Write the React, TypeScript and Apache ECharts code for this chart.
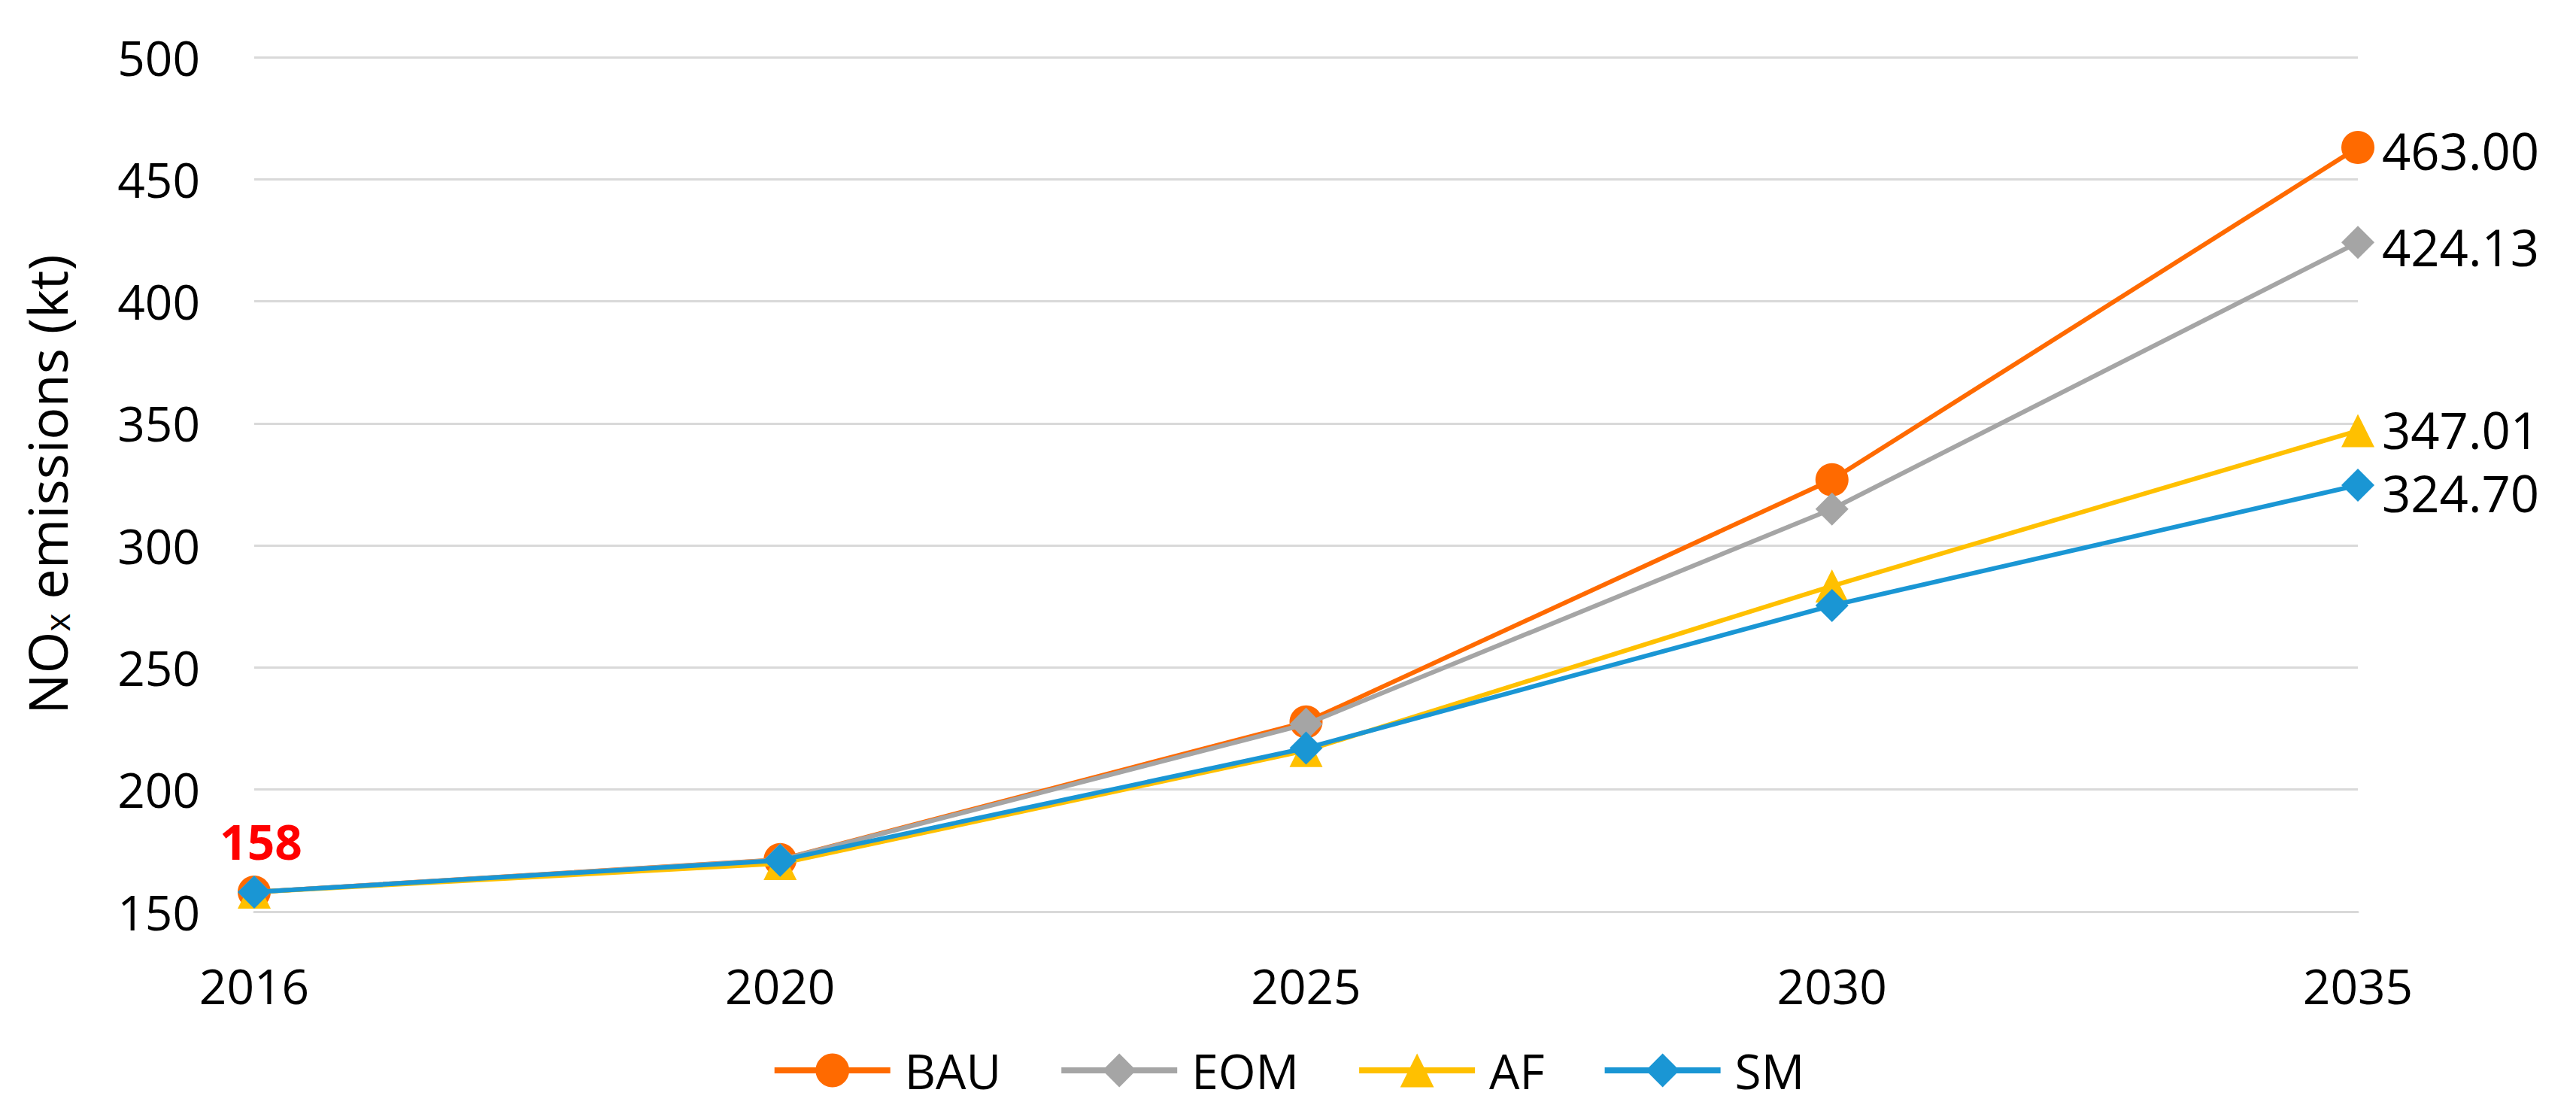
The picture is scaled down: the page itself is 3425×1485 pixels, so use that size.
import React, { useEffect, useRef } from "react";
import * as echarts from "echarts";

const years = ["2016", "2020", "2025", "2030", "2035"];
const seriesNames = ["BAU", "EOM", "AF", "SM"];
const bauValues = [158, 171.3, 227.7, 326.9, 463.0];
const eomValues = [158, 171.2, 226.8, 314.9, 424.13];
const afValues = [158, 169.7, 216, 283.4, 347.01];
const smValues = [158, 171, 217, 275.4, 324.7];
const yTicks = { min: 150, max: 500, interval: 50 };
const firstLabel = "158";

const colors = ["#FF6A00", "#A5A5A5", "#FFC000", "#1A96D4"];
const symbols = ["circle", "diamond", "triangle", "diamond"];
const endLabelOffsets = [[0, 4], [0, 6], [0, -2], [0, 10]];
const FONT = "Open Sans";

export default function App() {
  const ref = useRef<HTMLDivElement>(null);
  useEffect(() => {
    if (!ref.current) return;
    const chart = echarts.init(ref.current, undefined, { renderer: "svg" });
    const all = [bauValues, eomValues, afValues, smValues];
    const series = all.map((vals, i) => ({
      name: seriesNames[i],
      type: "line",
      data: vals.map((v, j) => {
        const item: any = { value: v };
        if (j === vals.length - 1) {
          item.label = {
            show: true,
            position: "right",
            distance: 10,
            offset: endLabelOffsets[i],
            formatter: (p: any) => Number(p.value).toFixed(2),
            color: "#000",
            fontSize: 67,
            lineHeight: 66,
            fontFamily: FONT,
          };
        }
        if (j === 0 && i === 0) {
          item.label = {
            show: true,
            position: "top",
            distance: 14,
            offset: [9, 0],
            formatter: firstLabel,
            color: "#FF0000",
            fontWeight: "bold",
            fontSize: 64,
            fontFamily: FONT,
          };
        }
        return item;
      }),
      symbol: symbols[i],
      symbolSize: 44,
      showAllSymbol: true,
      lineStyle: { color: colors[i], width: 6 },
      itemStyle: { color: colors[i] },
      z: 2 + i,
      label: { show: false },
    }));

    chart.setOption({
      animation: false,
      backgroundColor: "#fff",
      grid: { left: 338, right: 290, top: 76, bottom: 273, containLabel: false },
      xAxis: {
        type: "category",
        data: years,
        boundaryGap: false,
        axisLine: { show: true, lineStyle: { color: "#D9D9D9", width: 3 } },
        axisTick: { show: false },
        axisLabel: { color: "#000", fontSize: 64, fontFamily: FONT, margin: 66 },
        splitLine: { show: false },
      },
      yAxis: {
        type: "value",
        min: yTicks.min,
        max: yTicks.max,
        interval: yTicks.interval,
        axisLine: { show: false },
        axisTick: { show: false },
        axisLabel: { color: "#000", fontSize: 64, fontFamily: FONT, margin: 72 },
        splitLine: { lineStyle: { color: "#D9D9D9", width: 3 } },
        name: "{a|NO}{b|x}{a| emissions (kt)}",
        nameLocation: "middle",
        nameGap: 240,
        nameRotate: 90,
        nameTextStyle: {
          fontFamily: FONT,
          color: "#000",
          rich: {
            a: { fontSize: 72, fontFamily: FONT, color: "#000", lineHeight: 82, verticalAlign: "bottom" },
            b: { fontSize: 46, fontFamily: FONT, color: "#000", lineHeight: 46, verticalAlign: "bottom" },
          },
        },
      },
      legend: {
        data: seriesNames,
        bottom: 25,
        left: "center",
        itemWidth: 154,
        itemHeight: 56,
        itemGap: 76,
        lineStyle: { width: 8 },
        textStyle: { color: "#000", fontSize: 64, fontFamily: FONT, padding: [0, 0, 0, 14] },
      },
      series,
    });
    return () => chart.dispose();
  }, []);
  return (
    <div
      ref={ref}
      style={{ position: "fixed", left: 0, top: 0, width: 3425, height: 1485, background: "#fff" }}
    />
  );
}
